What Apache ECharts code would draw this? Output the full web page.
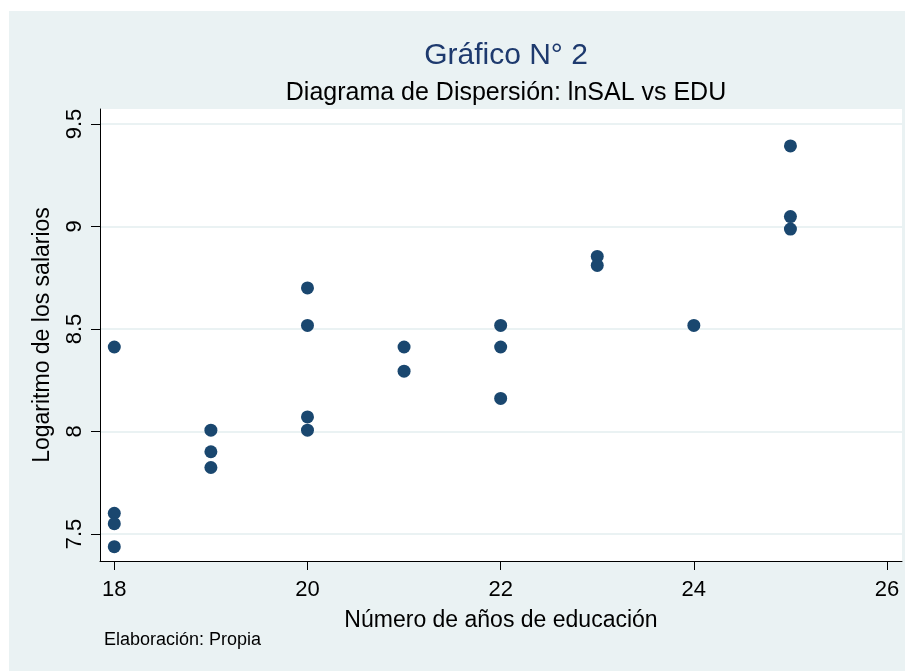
<!DOCTYPE html>
<html>
<head>
<meta charset="utf-8">
<script src="https://cdn.jsdelivr.net/npm/echarts@6/dist/echarts.min.js"></script>
<style>
html,body{margin:0;padding:0;background:#ffffff;}
#chart{width:910px;height:671px;}
</style>
</head>
<body>
<div id="chart"></div>
<script>
// Data
var eduYears = [18, 18, 18, 18, 19, 19, 19, 20, 20, 20, 20, 21, 21, 22, 22, 22, 23, 23, 24, 25, 25, 25];
var lnSal    = [8.412, 7.601, 7.550, 7.438, 8.006, 7.901, 7.824, 8.700, 8.517, 8.071, 8.006, 8.412, 8.294, 8.517, 8.412, 8.161, 8.854, 8.810, 8.517, 9.393, 9.048, 8.987];
var xTicks = [18, 20, 22, 24, 26];
var yTicks = [7.5, 8, 8.5, 9, 9.5];
var xRange = [17.852, 26.155];
var yRange = [7.368, 9.573];

var points = eduYears.map(function (x, i) { return [x, lnSal[i]]; });

var FONT = '"Liberation Sans", Arial, Helvetica, sans-serif';
var chart = echarts.init(document.getElementById('chart'), null, {renderer: 'canvas'});
chart.setOption({
  backgroundColor: '#ffffff',
  animation: false,
  graphic: [{
    type: 'rect', z: -10, silent: true,
    shape: {x: 9, y: 11, width: 896, height: 660},
    style: {fill: '#EAF2F3'}
  }],
  title: [{
    text: 'Gráfico N° 2',
    left: 501, top: 36, textAlign: 'center',
    textStyle: {fontFamily: FONT, fontSize: 30, fontWeight: 'normal', color: '#1E3A6E'}
  }, {
    text: 'Diagrama de Dispersión: lnSAL vs EDU',
    left: 501, top: 76, textAlign: 'center',
    textStyle: {fontFamily: FONT, fontSize: 25, fontWeight: 'normal', color: '#000000'}
  }, {
    text: 'Elaboración: Propia',
    left: 99, top: 626,
    textStyle: {fontFamily: FONT, fontSize: 18, fontWeight: 'normal', color: '#000000'}
  }],
  grid: {
    left: 100, top: 109, width: 802, height: 452,
    show: true, backgroundColor: '#ffffff', borderWidth: 0
  },
  xAxis: {
    type: 'value', min: xRange[0], max: xRange[1],
    name: 'Número de años de educación',
    nameLocation: 'middle', nameGap: 48,
    nameTextStyle: {fontFamily: FONT, fontSize: 23, color: '#000000'},
    axisLine: {show: true, lineStyle: {color: '#000000', width: 1}},
    axisTick: {show: true, length: 9, customValues: xTicks, lineStyle: {color: '#000000'}},
    axisLabel: {customValues: xTicks, margin: 18, fontFamily: FONT, fontSize: 22, color: '#000000'},
    splitLine: {show: false}
  },
  yAxis: {
    type: 'value', min: yRange[0], max: yRange[1],
    name: 'Logaritmo de los salarios',
    nameLocation: 'middle', nameGap: 46, nameRotate: 90,
    nameTextStyle: {fontFamily: FONT, fontSize: 23, color: '#000000'},
    axisLine: {show: true, lineStyle: {color: '#000000', width: 1}},
    axisTick: {show: true, length: 9, customValues: yTicks, lineStyle: {color: '#000000'}},
    axisLabel: {customValues: yTicks, rotate: 90, margin: 14, fontFamily: FONT, fontSize: 22, color: '#000000',
      formatter: function (v) { return String(v); }},
    splitLine: {show: true, lineStyle: {color: '#EAF2F3', width: 2}}
  },
  series: [{
    type: 'scatter',
    data: points,
    symbol: 'circle',
    symbolSize: 13,
    itemStyle: {color: '#1A476F', opacity: 1}
  }]
});
</script>
</body>
</html>
